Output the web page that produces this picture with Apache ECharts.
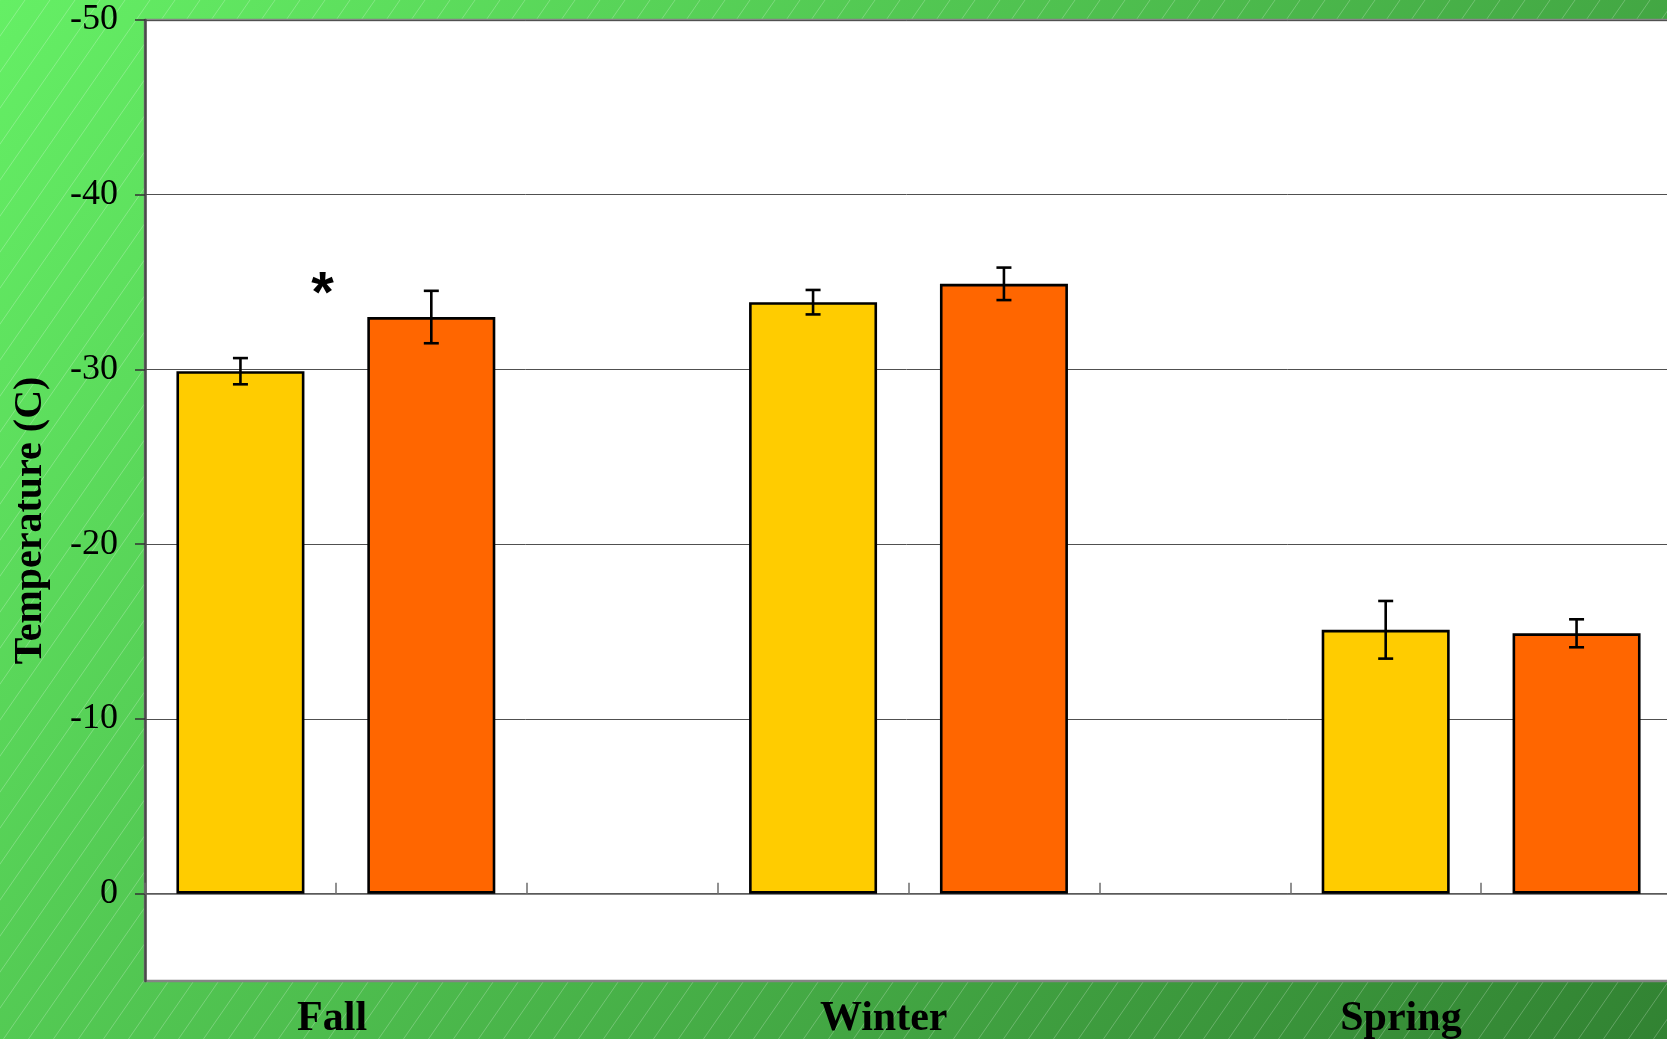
<!DOCTYPE html>
<html>
<head>
<meta charset="utf-8">
<title>Temperature by season</title>
<script src="https://cdn.jsdelivr.net/npm/echarts@6/dist/echarts.min.js"></script>
<style>
  html, body { margin: 0; padding: 0; background: #4cb84c; }
  #chart { width: 1667px; height: 1039px; }
</style>
</head>
<body>
<div id="chart"></div>
<script>
// Seasonal means (°C) with their error half-widths, two series per season
const seasons = ['Fall', 'Winter', 'Spring'];
const series1Mean = [-29.9, -33.85, -15.1];
const series1Err = [0.75, 0.7, 1.65];
const series2Mean = [-33.0, -34.9, -14.9];
const series2Err = [1.5, 0.93, 0.8];
const yTickValues = [-50, -40, -30, -20, -10, 0];
// seasons whose two series differ significantly (marked with *)
const significant = ['Fall'];

// Each season takes two bar slots, followed by an empty spacer slot
const slots = [];
const bars1 = [];
const bars2 = [];
const errors1 = [];
const errors2 = [];
seasons.forEach(function (name, i) {
  const base = slots.length;
  slots.push(name + ' 1', name + ' 2');
  bars1.push(series1Mean[i], '-');
  bars2.push('-', series2Mean[i]);
  errors1.push([base, series1Mean[i], series1Err[i]]);
  errors2.push([base + 1, series2Mean[i], series2Err[i]]);
  if (i < seasons.length - 1) {
    slots.push(name + ' gap');
    bars1.push('-');
    bars2.push('-');
  }
});

// Asterisk sits just left of the boundary between a season's two bars
const starPoints = significant.map(function (name) {
  const i = seasons.indexOf(name);
  const top = Math.min(series1Mean[i] - series1Err[i], series2Mean[i] - series2Err[i]);
  return [3 * i + 0.93, top - 0.45];
});

// Diagonal hatch tile for the backdrop
const tile = document.createElement('canvas');
tile.width = 25;
tile.height = 36;
(function () {
  const c = tile.getContext('2d');
  c.strokeStyle = 'rgba(255,255,255,0.24)';
  c.lineWidth = 1;
  [-25, 0, 25].forEach(function (dx) {
    c.beginPath();
    c.moveTo(-25 + dx, 72);
    c.lineTo(50 + dx, -36);
    c.stroke();
  });
})();

function renderErrorBar(params, api) {
  const x = api.value(0);
  const m = api.value(1);
  const e = api.value(2);
  const hi = api.coord([x, m - e]);
  const lo = api.coord([x, m + e]);
  const hw = 7.5;
  const st = { stroke: '#000', lineWidth: 2.6 };
  return {
    type: 'group',
    children: [
      { type: 'line', shape: { x1: hi[0], y1: hi[1], x2: lo[0], y2: lo[1] }, style: st },
      { type: 'line', shape: { x1: hi[0] - hw, y1: hi[1], x2: hi[0] + hw, y2: hi[1] }, style: st },
      { type: 'line', shape: { x1: lo[0] - hw, y1: lo[1], x2: lo[0] + hw, y2: lo[1] }, style: st }
    ]
  };
}

const serif = "'Liberation Serif', 'Times New Roman', serif";

const chart = echarts.init(document.getElementById('chart'), null, { renderer: 'canvas' });

chart.setOption({
  animation: false,
  backgroundColor: 'transparent',
  graphic: [
    {
      type: 'rect', left: 0, top: 0, z: -20, silent: true,
      shape: { width: 1667, height: 1039 },
      style: {
        fill: new echarts.graphic.LinearGradient(0, 0, 1, 1.31, [
          { offset: 0, color: '#65EF65' },
          { offset: 1, color: '#2C772D' }
        ])
      }
    },
    {
      type: 'rect', left: 0, top: 0, z: -19, silent: true,
      shape: { width: 1667, height: 1039 },
      style: { fill: { image: tile, repeat: 'repeat' } }
    }
  ],
  grid: {
    left: 145, top: 20, width: 1527, height: 961,
    containLabel: false,
    outerBoundsMode: 'none',
    show: true,
    backgroundColor: '#ffffff',
    borderColor: '#858585',
    borderWidth: 2.5
  },
  xAxis: [
    {
      type: 'category',
      data: slots,
      boundaryGap: true,
      axisLine: { show: true, onZero: true, lineStyle: { color: '#5e5e5e', width: 1.5 } },
      axisTick: { show: true, inside: true, interval: 0, length: 11, lineStyle: { color: '#6e6e6e', width: 1.5 } },
      axisLabel: { show: false },
      splitLine: { show: false }
    },
    {
      type: 'value',
      min: 0,
      max: slots.length,
      position: 'bottom',
      axisLine: { show: false, onZero: false },
      axisTick: { show: false },
      splitLine: { show: false },
      axisLabel: {
        show: true,
        customValues: [0.98, 3.87, 6.58],
        formatter: function (v) {
          const at = [0.98, 3.87, 6.58];
          const k = at.indexOf(+v.toFixed(2));
          return k >= 0 ? seasons[k] : '';
        },
        margin: 17,
        color: '#000',
        fontFamily: serif,
        fontWeight: 'bold',
        fontSize: 42
      }
    }
  ],
  yAxis: {
    type: 'value',
    inverse: true,
    min: -50,
    max: 5,
    interval: 10,
    name: 'Temperature (C)',
    nameLocation: 'middle',
    nameGap: 94,
    nameRotate: 90,
    nameMoveOverlap: false,
    nameTextStyle: {
      color: '#000',
      fontFamily: serif,
      fontWeight: 'bold',
      fontSize: 40,
      padding: [0, 40, 0, 0]
    },
    axisLine: { show: true, lineStyle: { color: '#4a4a4a', width: 2.5 } },
    axisTick: { show: true, length: 10, customValues: yTickValues, lineStyle: { color: '#333', width: 1.5 } },
    axisLabel: {
      customValues: yTickValues,
      margin: 27,
      color: '#000',
      fontFamily: serif,
      fontSize: 36
    },
    splitLine: { show: true, lineStyle: { color: '#505050', width: 1 } }
  },
  series: [
    {
      name: 'Series 1',
      type: 'bar',
      data: bars1,
      barWidth: 128,
      barGap: '-100%',
      itemStyle: { color: '#FFCC00', borderColor: '#000', borderWidth: 2.6 }
    },
    {
      name: 'Series 2',
      type: 'bar',
      data: bars2,
      barWidth: 128,
      barGap: '-100%',
      itemStyle: { color: '#FF6600', borderColor: '#000', borderWidth: 2.6 }
    },
    {
      name: 'Series 1 error',
      type: 'custom',
      renderItem: renderErrorBar,
      data: errors1,
      encode: { x: 0, y: 1 },
      z: 5
    },
    {
      name: 'Series 2 error',
      type: 'custom',
      renderItem: renderErrorBar,
      data: errors2,
      encode: { x: 0, y: 1 },
      z: 5
    },
    {
      name: 'Significance',
      type: 'scatter',
      xAxisIndex: 1,
      data: starPoints,
      symbolSize: 0,
      silent: true,
      itemStyle: { opacity: 1 },
      label: {
        show: true,
        position: 'inside',
        formatter: '*',
        color: '#000',
        opacity: 1,
        fontFamily: "'Liberation Sans', Arial, sans-serif",
        fontWeight: 'bold',
        fontSize: 58,
        offset: [0, 13]
      },
      z: 6
    }
  ]
});
</script>
</body>
</html>
